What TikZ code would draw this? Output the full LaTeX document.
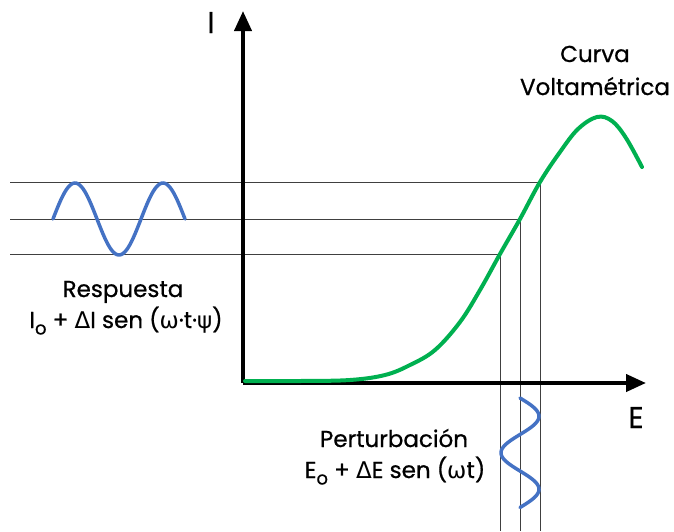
\documentclass[tikz,border=0pt]{standalone}
\usepackage{fontspec}
\setmainfont{Poppins}[FakeBold=0.7]
\newfontfamily\gk{DejaVu Sans}
\usetikzlibrary{arrows.meta}
\begin{document}
\begin{tikzpicture}[x=1pt,y=-1pt,
  axis/.style={line width=4pt,-{Triangle[length=20pt,width=17pt]}},
  guide/.style={line width=0.8pt,black!75},
  wave/.style={line width=3.5pt,color=wblue,line cap=round},
  lbl/.style={anchor=base,font=\fontsize{23}{26}\selectfont,inner sep=0pt},
  biglbl/.style={anchor=base,font=\fontsize{30}{32}\selectfont,inner sep=0pt}]
\definecolor{wblue}{HTML}{4472C4}
\definecolor{cgreen}{HTML}{00B050}
\useasboundingbox (0,0) rectangle (674,531);
% key points
\coordinate (o) at (243,383);
\coordinate (top) at (243,11);
\coordinate (right) at (646,383);
\coordinate (p1) at (500,254);
\coordinate (p2) at (520,219);
\coordinate (p3) at (540,182);
\coordinate (l1) at (10,254);
\coordinate (l2) at (10,219);
\coordinate (l3) at (10,182);
\coordinate (b1) at (500,531);
\coordinate (b2) at (520,531);
\coordinate (b3) at (540,531);
% guide lines
\draw[guide] (l1) -- (p1) -- (b1);
\draw[guide] (l2) -- (p2) -- (b2);
\draw[guide] (l3) -- (p3) -- (b3);
% axes
\draw[axis] (o) -- (top);
\draw[axis] (o) -- (right);
% curve
\draw[line width=4pt,cgreen,line cap=round] plot[smooth,tension=0.6] coordinates {
 (245,381) (300,381) (350,380) (385,375) (410,365) (435,350) (460,322) (480,290)
 (500,254) (520,219) (540,182) (560,152) (578,129) (597,117) (612,121) (626,138) (642,167)};
% response sine
\draw[wave] plot[domain=0:132,samples=80] ({53+\x},{219-36*sin(4.0909*\x)});
% perturbation sine
\draw[wave] plot[domain=0:109.5,samples=80] ({520+19*sin(4.9315*\x)},{398+\x});
% labels
\node[biglbl] (I) at (211,33) {I};
\node[biglbl] (E) at (636,428) {E};
\node[lbl] (c1) at (595,62) {Curva};
\node[lbl] (c2) at (595,95) {Voltamétrica};
\node[lbl] (r1) at (123,297) {Respuesta};
\node[lbl] (r2) at (126,328) {I\raisebox{-0.28em}{\fontsize{18}{18}\selectfont o} + {\gk Δ}I sen ({\gk ω}·t·{\gk ψ})};
\node[lbl] (q1) at (394,447) {Perturbación};
\node[lbl] (q2) at (395,478) {E\raisebox{-0.28em}{\fontsize{18}{18}\selectfont o} + {\gk Δ}E sen ({\gk ω}t)};
\end{tikzpicture}
\end{document}
